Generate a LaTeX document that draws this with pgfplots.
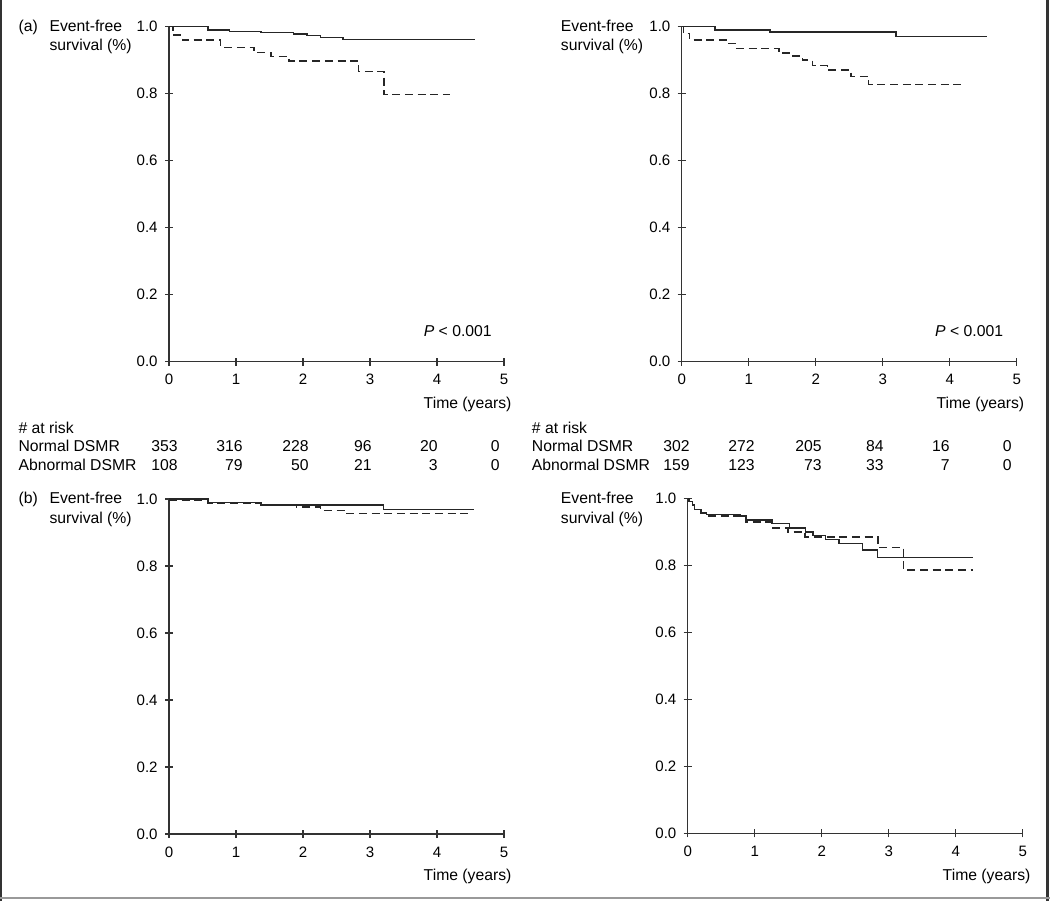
\documentclass[border=0pt]{standalone}
\usepackage{fontspec}
\setmainfont{Liberation Sans}
\usepackage{pgfplots}
\pgfplotsset{compat=1.18}

\newcommand\T[4]{\node[anchor=#3,inner sep=0pt,font=\fontsize{11.8}{13}\selectfont] at ({#1*0.75pt},{(901-#2)*0.75pt}) {#4};}

\pgfplotsset{km/.style={
  scale only axis, width=251.25pt, height=251.25pt,
  xmin=0,xmax=5,ymin=0,ymax=1,
  axis x line*=bottom, axis y line*=left,
  axis line style={line width=1pt, black!80},
  xtick={0,1,2,3,4,5}, ytick={0,0.2,0.4,0.6,0.8,1.0},
  y tick label style={/pgf/number format/fixed,/pgf/number format/fixed zerofill,/pgf/number format/precision=1, xshift=-2pt},
  x tick label style={yshift=-3pt},
  tick align=center, major tick length=6pt,
  tick style={line width=0.8pt, black!80},
  ticklabel style={font=\fontsize{11.3}{13}\selectfont},
  /pgf/number format/assume math mode=true,
  clip=false,
},
sol/.style={line width=1.1pt, black!85, const plot, mark=none},
dsh/.style={line width=1.1pt, black!85, const plot, mark=none, dash pattern=on 6pt off 3.5pt}}

\begin{document}
\begin{tikzpicture}
\useasboundingbox (0,0) rectangle (787.5pt,675.75pt);
\draw[line width=2pt, black!80] (0.75pt,0) -- (0.75pt,675.75pt);
\draw[line width=2pt, black!80] (785.6pt,0) -- (785.6pt,675.75pt);
\draw[line width=1pt, black!40] (0,2.25pt) -- (787.5pt,2.25pt);

% Top-left
\begin{axis}[km, at={(126.75pt,404.475pt)}, anchor=south west]
\addplot[sol] coordinates {(0,1.0)(0.58,0.99)(0.90,0.986)(1.37,0.982)(1.86,0.978)(2.06,0.973)(2.26,0.968)(2.6,0.962)(4.57,0.962)};
\addplot[dsh] coordinates {(0,1.0)(0.06,0.975)(0.2,0.96)(0.77,0.938)(1.27,0.923)(1.52,0.911)(1.79,0.898)(2.83,0.866)(3.21,0.797)(4.2,0.797)};
\node[anchor=base east,inner sep=0pt,font=\fontsize{11.8}{13}\selectfont] at (axis cs:4.82,0.075) {\textit{P} < 0.001};
\end{axis}

% Top-right
\begin{axis}[km, at={(511.275pt,404.475pt)}, anchor=south west]
\addplot[sol] coordinates {(0,1.0)(0.5,0.99)(1.32,0.984)(3.2,0.97)(4.55,0.97)};
\addplot[dsh] coordinates {(0,1.0)(0.03,0.98)(0.12,0.96)(0.7,0.95)(0.8,0.935)(1.45,0.922)(1.65,0.912)(1.8,0.9)(1.95,0.884)(2.18,0.871)(2.53,0.851)(2.79,0.828)(4.2,0.828)};
\node[anchor=base east,inner sep=0pt,font=\fontsize{11.8}{13}\selectfont] at (axis cs:4.80,0.075) {\textit{P} < 0.001};
\end{axis}

% Bottom-left
\begin{axis}[km, at={(126.75pt,50.25pt)}, anchor=south west]
\addplot[sol] coordinates {(0,1.0)(0.58,0.99)(1.37,0.982)(3.2,0.968)(4.55,0.968)};
\addplot[dsh] coordinates {(0,0.995)(0.58,0.988)(1.37,0.98)(1.9,0.976)(2.26,0.966)(2.63,0.957)(4.5,0.957)};
\end{axis}

% Bottom-right
\begin{axis}[km, at={(515.775pt,50.7pt)}, anchor=south west]
\addplot[sol] coordinates {(0,1.0)(0.02,0.99)(0.07,0.98)(0.10,0.967)(0.2,0.958)(0.28,0.952)(0.78,0.947)(0.88,0.935)(1.26,0.925)(1.52,0.912)(1.76,0.9)(1.87,0.89)(2.06,0.878)(2.26,0.866)(2.61,0.846)(2.83,0.823)(4.26,0.823)};
\addplot[dsh] coordinates {(0,1.0)(0.02,0.99)(0.07,0.98)(0.1,0.967)(0.2,0.955)(0.3,0.947)(0.86,0.929)(1.25,0.912)(1.5,0.9)(1.75,0.885)(2.84,0.853)(3.22,0.786)(4.26,0.786)};
\end{axis}

% Labels
\T{18.3}{31.7}{base west}{(a)}
\T{49.3}{31.7}{base west}{Event-free}
\T{49.3}{51}{base west}{survival (\%)}
\T{560.7}{31.7}{base west}{Event-free}
\T{560.7}{51}{base west}{survival (\%)}
\T{18.3}{503.3}{base west}{(b)}
\T{49.3}{503.3}{base west}{Event-free}
\T{49.3}{523}{base west}{survival (\%)}
\T{560.7}{503.3}{base west}{Event-free}
\T{560.7}{523}{base west}{survival (\%)}

\T{511.7}{408.3}{base east}{Time (years)}
\T{1024.5}{408.3}{base east}{Time (years)}
\T{511.7}{880}{base east}{Time (years)}
\T{1030.7}{880}{base east}{Time (years)}

% At risk tables
\T{18.3}{433.3}{base west}{\# at risk}
\T{18.3}{451.7}{base west}{Normal DSMR}
\T{18.3}{470}{base west}{Abnormal DSMR}
\T{531.7}{433.3}{base west}{\# at risk}
\T{531.7}{451.7}{base west}{Normal DSMR}
\T{531.7}{470}{base west}{Abnormal DSMR}

\T{178}{451.7}{base east}{353}
\T{243}{451.7}{base east}{316}
\T{309}{451.7}{base east}{228}
\T{372}{451.7}{base east}{96}
\T{438}{451.7}{base east}{20}
\T{500}{451.7}{base east}{0}
\T{178}{470}{base east}{108}
\T{243}{470}{base east}{79}
\T{309}{470}{base east}{50}
\T{372}{470}{base east}{21}
\T{438}{470}{base east}{3}
\T{500}{470}{base east}{0}

\T{690}{451.7}{base east}{302}
\T{755}{451.7}{base east}{272}
\T{822}{451.7}{base east}{205}
\T{884}{451.7}{base east}{84}
\T{950}{451.7}{base east}{16}
\T{1012}{451.7}{base east}{0}
\T{690}{470}{base east}{159}
\T{755}{470}{base east}{123}
\T{822}{470}{base east}{73}
\T{884}{470}{base east}{33}
\T{950}{470}{base east}{7}
\T{1012}{470}{base east}{0}
\end{tikzpicture}
\end{document}
